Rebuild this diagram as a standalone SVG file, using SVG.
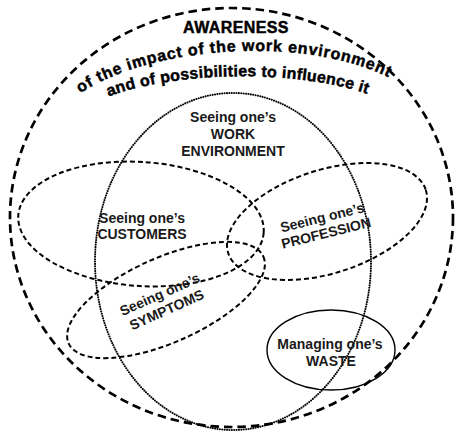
<svg xmlns="http://www.w3.org/2000/svg" width="459" height="435" viewBox="0 0 459 435">
<style>
.lbl{font-family:"Liberation Sans",Arial,sans-serif;font-weight:bold;font-size:14px;fill:#1a1a1a;text-anchor:middle}
.arc{font-family:"Liberation Sans",Arial,sans-serif;font-weight:bold;font-size:16px;fill:#000;stroke:#000;stroke-width:0.45}
.outer{fill:none;stroke:#000;stroke-width:2.7;stroke-dasharray:8.5 5}
.dash{fill:none;stroke:#000;stroke-width:2;stroke-dasharray:5 3}
.dot{fill:none;stroke:#000;stroke-width:2.1;stroke-linecap:round;stroke-dasharray:0 2.4}
.solid{fill:none;stroke:#000;stroke-width:1.4}
</style>
<defs>
<path id="arc1" d="M70,101 C140,43 320,33 400,84"/>
<path id="arc2" d="M100,100 C170,70 300,68 376,97"/>
</defs>
<rect width="459" height="435" fill="#fff"/>
<g id="awareness">
<ellipse class="outer" cx="231.5" cy="217.5" rx="221.5" ry="209.5"/>
<text x="236" y="33" class="arc" text-anchor="middle" style="letter-spacing:0.4px">AWARENESS</text>
<text class="arc" style="letter-spacing:0.8px"><textPath href="#arc1" startOffset="50%" text-anchor="middle">of the impact of the work environment</textPath></text>
<text class="arc" style="letter-spacing:0.25px"><textPath href="#arc2" startOffset="50%" text-anchor="middle">and of possibilities to influence it</textPath></text>
</g>
<g id="work-environment">
<ellipse class="dot" cx="233" cy="261.5" rx="138" ry="168.5"/>
<text class="lbl" x="233" y="122">Seeing one’s</text>
<text class="lbl" x="233" y="139">WORK</text>
<text class="lbl" x="233" y="156">ENVIRONMENT</text>
</g>
<g id="customers">
<ellipse class="dash" cx="141" cy="224" rx="123" ry="62" transform="rotate(4 141 224)"/>
<text class="lbl" x="142" y="223">Seeing one’s</text>
<text class="lbl" x="142" y="239">CUSTOMERS</text>
</g>
<g id="profession">
<ellipse class="dash" cx="327" cy="221.5" rx="103.7" ry="51.7" transform="rotate(-17.7 327 221.5)"/>
<g transform="rotate(-14 325 229)">
<text class="lbl" x="325" y="222">Seeing one’s</text>
<text class="lbl" x="325" y="238">PROFESSION</text>
</g>
</g>
<g id="symptoms">
<ellipse class="dash" cx="166" cy="300" rx="106.6" ry="42.4" transform="rotate(-24 166 300)"/>
<g transform="rotate(-24 165 306)">
<text class="lbl" x="165" y="298">Seeing one’s</text>
<text class="lbl" x="165" y="315">SYMPTOMS</text>
</g>
</g>
<g id="waste">
<ellipse class="solid" cx="331" cy="350" rx="64" ry="40"/>
<text class="lbl" x="330" y="349">Managing one’s</text>
<text class="lbl" x="331" y="366">WASTE</text>
</g>
<g id="connectors"/>
</svg>
